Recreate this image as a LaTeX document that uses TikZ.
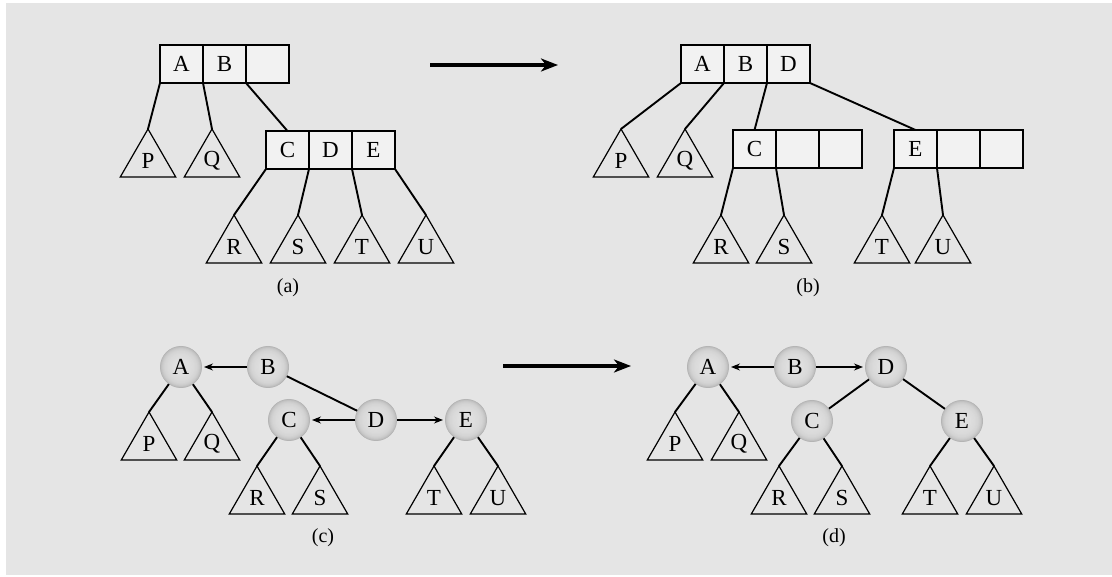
\documentclass[tikz,border=0pt]{standalone}
\usepackage{fontspec}
\setmainfont{Liberation Serif}
\usetikzlibrary{shapes.geometric,arrows.meta}
\definecolor{bg}{HTML}{E5E5E5}
\definecolor{cellfill}{HTML}{F2F2F2}
\definecolor{ballin}{HTML}{DFDFDF}
\definecolor{ballout}{HTML}{B2B2B2}
\begin{document}
\begin{tikzpicture}[x=1pt,y=-1pt,
  cell/.style={draw,line width=1.3pt,fill=cellfill,minimum width=43pt,minimum height=38pt,inner sep=0pt,outer sep=0pt,font=\fontsize{23}{25}\selectfont},
  boxline/.style={line width=2.2pt},
  tri/.style={draw,line width=1.2pt,regular polygon,regular polygon sides=3,minimum size=64pt,inner sep=0pt,outer sep=0pt,font=\fontsize{23}{25}\selectfont},
  ballnode/.style={circle,fill=ballout,minimum size=42pt,inner sep=0pt,outer sep=0pt,font=\fontsize{23}{25}\selectfont,
    path picture={\foreach \r/\c in {20.5/18,20/30,19.5/40,19/48,18.5/55,18/62,17.5/67,17/72,16.25/77,15.5/81,14.5/85,13.5/88,12.25/91,11/94,9.5/97,8/100}{\fill[ballin!\c!ballout] (path picture bounding box.center) circle (\r pt);}}},
  link/.style={line width=1.9pt},
  ptr/.style={line width=1.1pt,shorten >=2pt,-{Stealth[length=9pt,width=7pt]}},
  bigarrow/.style={line width=3.6pt,-{Stealth[length=17pt,width=13pt,inset=5pt]}},
  lbl/.style={font=\fontsize{20}{22}\selectfont}]
\useasboundingbox (0,0) rectangle (1112,577);
\fill[bg] (6,3) rectangle (1112,575);

% ---------- (a) ----------
\node[cell] (aA) at (181.5,64) {A};
\node[cell] (aB) at (224.5,64) {B};
\node[cell] (aX) at (267.5,64) {};
\draw[boxline] (aA.north west) rectangle (aX.south east);
\node[cell] (aC) at (287.5,150) {C};
\node[cell] (aD) at (330.5,150) {D};
\node[cell] (aE) at (373.5,150) {E};
\draw[boxline] (aC.north west) rectangle (aE.south east);
\node[tri] (aP) at (148,161) {P};
\node[tri] (aQ) at (212,161) {Q};
\node[tri] (aR) at (234,247) {R};
\node[tri] (aS) at (298,247) {S};
\node[tri] (aT) at (362,247) {T};
\node[tri] (aU) at (426,247) {U};
\draw[link] (aA.south west) -- (aP.corner 1);
\draw[link] (aA.south east) -- (aQ.corner 1);
\draw[link] (aB.south east) -- (aC.north);
\draw[link] (aC.south west) -- (aR.corner 1);
\draw[link] (aC.south east) -- (aS.corner 1);
\draw[link] (aE.south west) -- (aT.corner 1);
\draw[link] (aE.south east) -- (aU.corner 1);
\node[lbl] (la) at (288,288) {(a)};

% ---------- (b) ----------
\node[cell] (bA) at (702.5,64) {A};
\node[cell] (bB) at (745.5,64) {B};
\node[cell] (bD) at (788.5,64) {D};
\draw[boxline] (bA.north west) rectangle (bD.south east);
\node[cell] (bC) at (754.5,149) {C};
\node[cell] (bC2) at (797.5,149) {};
\node[cell] (bC3) at (840.5,149) {};
\draw[boxline] (bC.north west) rectangle (bC3.south east);
\node[cell] (bE) at (915.5,149) {E};
\node[cell] (bE2) at (958.5,149) {};
\node[cell] (bE3) at (1001.5,149) {};
\draw[boxline] (bE.north west) rectangle (bE3.south east);
\node[tri] (bP) at (621,161) {P};
\node[tri] (bQ) at (685,161) {Q};
\node[tri] (bR) at (721,247) {R};
\node[tri] (bS) at (784,247) {S};
\node[tri] (bT) at (882,247) {T};
\node[tri] (bU) at (943,247) {U};
\draw[link] (bA.south west) -- (bP.corner 1);
\draw[link] (bA.south east) -- (bQ.corner 1);
\draw[link] (bB.south east) -- (bC.north);
\draw[link] (bD.south east) -- (bE.north);
\draw[link] (bC.south west) -- (bR.corner 1);
\draw[link] (bC.south east) -- (bS.corner 1);
\draw[link] (bE.south west) -- (bT.corner 1);
\draw[link] (bE.south east) -- (bU.corner 1);
\node[lbl] (lb) at (808,288) {(b)};

% ---------- (c) ----------
\node[ballnode] (cA) at (181,367) {A};
\node[ballnode] (cB) at (268,367) {B};
\node[ballnode] (cC) at (289,420) {C};
\node[ballnode] (cD) at (376,420) {D};
\node[ballnode] (cE) at (466,420) {E};
\node[tri] (cP) at (149,444) {P};
\node[tri] (cQ) at (212,444) {Q};
\node[tri] (cR) at (257,498) {R};
\node[tri] (cS) at (320,498) {S};
\node[tri] (cT) at (434,498) {T};
\node[tri] (cU) at (498,498) {U};
\draw[ptr] (cB) -- (cA);
\draw[ptr] (cD) -- (cC);
\draw[ptr] (cD) -- (cE);
\draw[link] (cB) -- (cD);
\draw[link] (cA) -- (cP.corner 1);
\draw[link] (cA) -- (cQ.corner 1);
\draw[link] (cC) -- (cR.corner 1);
\draw[link] (cC) -- (cS.corner 1);
\draw[link] (cE) -- (cT.corner 1);
\draw[link] (cE) -- (cU.corner 1);
\node[lbl] (lc) at (323,538) {(c)};

% ---------- (d) ----------
\node[ballnode] (dA) at (708,367) {A};
\node[ballnode] (dB) at (795,367) {B};
\node[ballnode] (dD) at (886,367) {D};
\node[ballnode] (dC) at (812,421) {C};
\node[ballnode] (dE) at (962,421) {E};
\node[tri] (dP) at (675,444) {P};
\node[tri] (dQ) at (739,444) {Q};
\node[tri] (dR) at (779,498) {R};
\node[tri] (dS) at (842,498) {S};
\node[tri] (dT) at (930,498) {T};
\node[tri] (dU) at (994,498) {U};
\draw[ptr] (dB) -- (dA);
\draw[ptr] (dB) -- (dD);
\draw[link] (dD) -- (dC);
\draw[link] (dD) -- (dE);
\draw[link] (dA) -- (dP.corner 1);
\draw[link] (dA) -- (dQ.corner 1);
\draw[link] (dC) -- (dR.corner 1);
\draw[link] (dC) -- (dS.corner 1);
\draw[link] (dE) -- (dT.corner 1);
\draw[link] (dE) -- (dU.corner 1);
\node[lbl] (ld) at (834,538) {(d)};

% ---------- big arrows ----------
\coordinate (t1) at (430,65);
\coordinate (t2) at (558,65);
\draw[bigarrow] (t1) -- (t2);
\coordinate (u1) at (503,366);
\coordinate (u2) at (631,366);
\draw[bigarrow] (u1) -- (u2);
\end{tikzpicture}
\end{document}
